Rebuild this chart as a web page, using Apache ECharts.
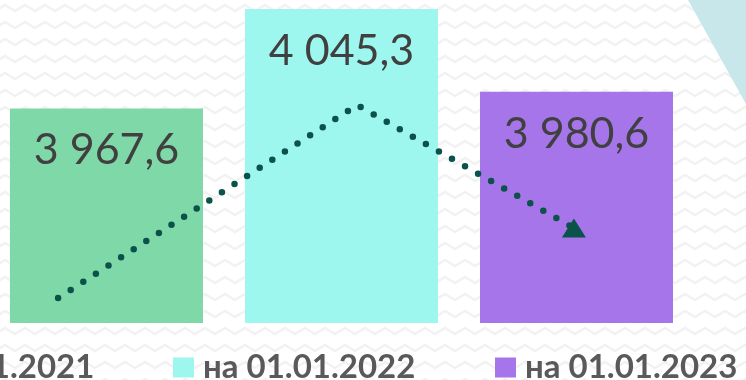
<!DOCTYPE html>
<html>
<head>
<meta charset="utf-8">
<script src="https://cdn.jsdelivr.net/npm/echarts@6/dist/echarts.min.js"></script>
<style>
  html, body { margin: 0; padding: 0; }
  body {
    width: 746px; height: 380px; overflow: hidden;
    background-color: #ffffff;
    background-image: url("data:image/svg+xml;utf8,<svg xmlns='http://www.w3.org/2000/svg' width='20' height='17'><polyline points='-5,11 5,5 15,11 25,5' fill='none' stroke='%23f2f2f2' stroke-width='2.6'/></svg>");
    background-size: 20px 17px;
  }
  #chart { width: 746px; height: 380px; }
</style>
</head>
<body>
<div id="chart"></div>
<script>
// Reporting dates and the totals for each of them
const dates = ['на 01.01.2021', 'на 01.01.2022', 'на 01.01.2023'];
const totals = [3967.6, 4045.3, 3980.6];
const barColors = ['#7fd8a8', '#9ef7ee', '#a675e9'];

// Trend arrow drawn over the bars (x in category units, y in value units)
const trendX = [-0.206, 1.066, 1.989];
const trendY = [3819.5, 3970.3, 3874.2];

function fmt(v) {
  const parts = v.toFixed(1).split('.');
  return parts[0].replace(/\B(?=(\d{3})+(?!\d))/g, ' ') + ',' + parts[1];
}

const chart = echarts.init(document.getElementById('chart'), null, { renderer: 'canvas' });

// One series per date so each gets its own legend entry; bars sit at their date index
const barSeries = dates.map((name, i) => ({
  name: name,
  type: 'bar',
  barWidth: 193,
  barGap: '-100%',
  data: [[i, totals[i]]],
  itemStyle: { color: barColors[i] },
  label: {
    show: true,
    position: ['50%', 42],
    align: 'center',
    verticalAlign: 'middle',
    formatter: p => fmt(p.value[1]),
    fontFamily: 'Lato',
    fontSize: 43,
    color: '#404040'
  },
  emphasis: { disabled: true },
  z: 2
}));

const trendData = trendX.map((x, i) => {
  const item = { value: [x, trendY[i]] };
  if (i === trendX.length - 1) {
    item.symbol = 'triangle';
    item.symbolSize = [24, 19];
  }
  return item;
});

const legendBase = {
  top: 351,
  padding: 0,
  orient: 'horizontal',
  icon: 'rect',
  itemWidth: 21,
  itemHeight: 20,
  textStyle: {
    fontFamily: 'Lato',
    fontWeight: 'bold',
    fontSize: 33,
    lineHeight: 24,
    color: '#595959',
    padding: [0, 0, 0, 4]
  },
  selectedMode: false
};

chart.setOption({
  animation: false,
  backgroundColor: 'transparent',
  grid: { left: 0, right: 52, top: 3, bottom: 57, containLabel: false },
  xAxis: [
    { type: 'value', min: -0.4532, max: 2.5, show: false }
  ],
  yAxis: [
    { type: 'value', min: 3800, max: 4050, show: false }
  ],
  legend: [
    Object.assign({}, legendBase, { left: -148, data: [dates[0]] }),
    Object.assign({}, legendBase, { left: 173, data: [dates[1]] }),
    Object.assign({}, legendBase, { left: 495, data: [dates[2]] })
  ],
  graphic: [{
    type: 'polygon',
    z: -1,
    shape: { points: [[688, 0], [746, 0], [746, 104]] },
    style: { fill: '#c8e7ea' },
    silent: true
  }],
  series: barSeries.concat([{
    name: 'trend',
    type: 'line',
    data: trendData,
    symbol: 'none',
    showSymbol: true,
    itemStyle: { color: '#0b524b' },
    lineStyle: { color: '#0b524b', width: 6.5, type: [0, 15], cap: 'round' },
    emphasis: { disabled: true },
    z: 5
  }])
});
</script>
</body>
</html>
